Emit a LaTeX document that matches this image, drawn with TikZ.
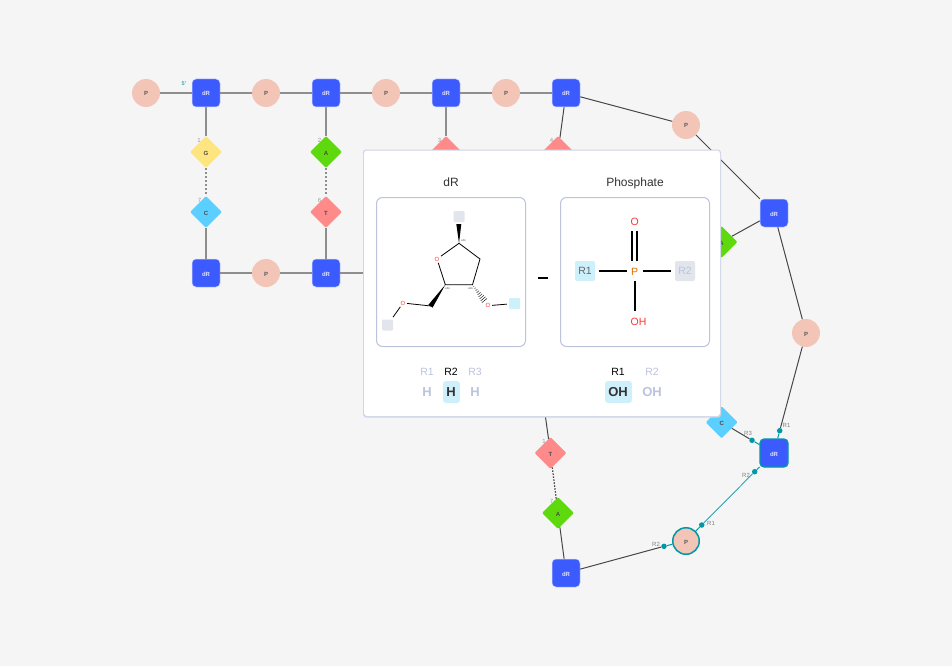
\documentclass[tikz,border=0pt]{standalone}
\usepackage{fontspec}
\setmainfont{Liberation Sans}
\usetikzlibrary{shapes.geometric}

\definecolor{bgc}{HTML}{F5F5F5}
\definecolor{dRc}{HTML}{3B5BFF}
\definecolor{Pc}{HTML}{F3C5B6}
\definecolor{Gc}{HTML}{FFE57F}
\definecolor{Ac}{HTML}{5DD90D}
\definecolor{Cc}{HTML}{5BCFFF}
\definecolor{Tc}{HTML}{FF8A8A}
\definecolor{teal1}{HTML}{0097A7}
\definecolor{lnk}{HTML}{8E8E8E}
\definecolor{frame1}{HTML}{BCC3DC}
\definecolor{sel1}{HTML}{CDF0FB}
\definecolor{off1}{HTML}{E2E5EC}
\definecolor{red1}{HTML}{FF3333}

\tikzset{
  dRnode/.style={rectangle,rounded corners=4pt,fill=dRc,draw=dRc!25!white,line width=.5pt,minimum size=28pt,inner sep=0pt,text=white!88!blue,text height=6pt,text depth=0pt,font=\fontsize{6}{6}\selectfont\bfseries},
  Pnode/.style={circle,fill=Pc,minimum size=28pt,inner sep=0pt,text=black!65,text height=6pt,text depth=0pt,font=\fontsize{6}{6}\selectfont\bfseries},
  base/.style={diamond,rounded corners=1pt,fill=#1,minimum size=32pt,inner sep=0pt,text=black!70,text height=6pt,text depth=0pt,font=\fontsize{6}{6}\selectfont\bfseries},
  num/.style={text=black!40,inner sep=0pt,font=\fontsize{6}{7}\selectfont},
  rlab/.style={text=black!50,inner sep=0pt,font=\fontsize{6}{7}\selectfont},
  gline/.style={draw=lnk,line width=2pt},
  dline/.style={draw=black!72,line width=1pt},
  tline/.style={draw=teal1,line width=1pt},
  dotr/.style={circle,fill=teal1,minimum size=5.5pt,inner sep=0pt},
  box1/.style={draw=frame1,line width=1pt,rounded corners=6pt,fill=white},
  blab/.style={inner sep=0pt,font=\fontsize{10.5}{12}\selectfont},
  bval/.style={inner sep=0pt,font=\fontsize{13}{15}\selectfont\bfseries},
  abs1/.style={inner sep=0pt,text=black!60,font=\fontsize{3}{3}\selectfont},
  Olab/.style={inner sep=1.5pt,text=red1,font=\fontsize{6}{7}\selectfont},
  bond/.style={draw=black,line width=.8pt},
  bond2/.style={draw=black,line width=1.8pt},
}

\begin{document}
\begin{tikzpicture}[x=1pt,y=-1pt]
      \fill[bgc] (0,0) rectangle (952,666);
      \useasboundingbox (0,0) rectangle (952,666);

      % top strand
      \foreach \n/\x in {1/206,2/326,3/446,4/566}
      { \node[dRnode] (dR\n) at (\x,93) {dR}; }
      \foreach \n/\x in {1/146,2/266,3/386,4/506}
      { \node[Pnode] (P\n) at (\x,93) {P}; }
      \node[Pnode] (P5) at (686,125) {P};
      \node[dRnode] (dR5) at (774,213) {dR};
      \node[Pnode] (P6) at (806,333) {P};
      \node[dRnode,draw=teal1,line width=1.2pt] (dR6) at (774,453) {dR};
      \node[Pnode,draw=teal1,line width=1.5pt,minimum size=26.5pt] (P7) at (686,541) {P};
      \node[dRnode] (dR7) at (566,573) {dR};

      % lower strand
      \node[dRnode] (dR8) at (206,273) {dR};
      \node[Pnode] (P8) at (266,273) {P};
      \node[dRnode] (dR9) at (326,273) {dR};

      % bases
      \node[base=Gc] (G1) at (206,152) {G};
      \node[base=Ac] (A1) at (326,152) {A};
      \node[base=Tc] (T1) at (446,152) {T};
      \node[base=Tc] (T2) at (558,152) {T};
      \node[base=Cc] (C1) at (206,212) {C};
      \node[base=Tc] (T3) at (326,212) {T};
      \node[base=Ac] (A2) at (721.5,242) {A};
      \node[base=Cc] (C2) at (721.7,422.3) {C};
      \node[base=Tc] (T4) at (550.5,453) {T};
      \node[base=Ac] (A3) at (558,513) {A};

      \node[num] (n1) at (199,140) {1};
      \node[num] (n2) at (319.5,140) {2};
      \node[num] (n3) at (439.5,140) {3};
      \node[num] (n4) at (551.5,140) {4};
      \node[num] (n5) at (199.5,200) {7};
      \node[num] (n6) at (319.5,200) {6};
      \node[num] (n7) at (544,441) {1};
      \node[num] (n8) at (551.5,501) {7};
      \node[text=teal1!80,inner sep=0pt,font=\fontsize{5.5}{6}\selectfont\bfseries] (end5) at (184,84) {5'};

      % links
      \draw[gline] (P1) -- (dR1);
      \draw[gline] (dR1) -- (P2);
      \draw[gline] (P2) -- (dR2);
      \draw[gline] (dR2) -- (P3);
      \draw[gline] (P3) -- (dR3);
      \draw[gline] (dR3) -- (P4);
      \draw[gline] (P4) -- (dR4);
      \draw[gline] (dR1) -- (G1);
      \draw[gline] (dR2) -- (A1);
      \draw[gline] (dR3) -- (T1);
      \draw[gline] (C1) -- (dR8);
      \draw[gline] (T3) -- (dR9);
      \draw[gline] (dR8) -- (P8);
      \draw[gline] (P8) -- (dR9);
      \path (420,273) coordinate (hid1);
      \draw[gline] (dR9) -- (hid1);
      \draw[gline,dash pattern=on 2pt off 2pt] (G1) -- (C1);
      \draw[gline,dash pattern=on 2pt off 2pt] (A1) -- (T3);
      \draw[dline] (dR4) -- (T2);
      \draw[dline] (dR4) -- (P5);
      \draw[dline] (P5) -- (dR5);
      \draw[dline] (dR5) -- (A2);
      \draw[dline] (dR5) -- (P6);
      \path (542,392) coordinate (hid2);
      \draw[dline] (hid2) -- (T4);
      \draw[dline,line width=1.2pt,dash pattern=on 1.5pt off 1.5pt] (T4) -- (A3);
      \draw[dline] (A3) -- (dR7);

      % selected links
      \node[dotr] (r1) at (779.7,430.7) {};
      \node[dotr] (r2) at (752,440.3) {};
      \node[dotr] (r3) at (754.7,471.7) {};
      \node[dotr] (r4) at (701.7,525) {};
      \node[dotr] (r5) at (664,546.3) {};
      \draw[dline] (P6) -- (r1);
      \draw[tline] (r1) -- (dR6);
      \draw[dline] (C2) -- (r2);
      \draw[tline] (r2) -- (dR6);
      \draw[tline] (dR6) -- (r3);
      \draw[tline,line width=.7pt] (r3) -- (r4);
      \draw[tline] (r4) -- (P7);
      \draw[tline] (P7) -- (r5);
      \draw[dline] (r5) -- (dR7);
      \node[rlab] (l1) at (786.5,425) {R1};
      \node[rlab] (l2) at (748,433) {R3};
      \node[rlab] (l3) at (746,475) {R2};
      \node[rlab] (l4) at (711,523) {R1};
      \node[rlab] (l5) at (656,544) {R2};

      % panel
      \fill[frame1!70,rounded corners=3pt] (363,149.5) rectangle (721,417.5);
      \fill[white,rounded corners=3pt] (364,150.5) rectangle (720,416);

      \node[inner sep=0pt,text=black!80,font=\fontsize{12}{14}\selectfont] (tdR) at (451,182) {dR};
      \node[inner sep=0pt,text=black!80,font=\fontsize{12}{14}\selectfont] (tPh) at (635,183.5) {Phosphate};
      \draw[box1] (376.5,197.5) rectangle (525.5,346.5);
      \draw[box1] (560.5,197.5) rectangle (709.5,346.5);
      \draw[black,line width=2pt] (538,277.5) to (548,277.5);

      % sugar
      \path (459,243.3) coordinate (a1);
      \path (480,259) coordinate (a2);
      \path (472.5,284.7) coordinate (a3);
      \path (445.3,284.7) coordinate (a4);
      \path (431,306) coordinate (a5);
      \node[rectangle,rounded corners=1pt,fill=off1,minimum size=11pt,inner sep=0pt] (s1) at (459,216.5) {};
      \node[rectangle,rounded corners=1pt,fill=off1,minimum size=11pt,inner sep=0pt] (s2) at (387.5,325) {};
      \node[rectangle,rounded corners=1pt,fill=sel1,minimum size=11pt,inner sep=0pt] (s3) at (514.5,303.5) {};
      \node[Olab] (O1) at (437,259) {O};
      \node[Olab] (O2) at (403,303) {O};
      \node[Olab] (O3) at (488,305.7) {O};
      \draw[bond] (O1) -- (a1) -- (a2) -- (a3) -- (a4) -- (O1);
      \fill (a1) -- (456.3,224) -- (461.3,224) -- cycle;
      \fill (a4) -- (428.4,304.8) -- (432.6,307.6) -- cycle;
      \foreach \i in {1,...,9}
      { \path (a3) -- (485,301.5) coordinate[pos=\i/9.5] (hh);
        \draw[black,line width=.4pt] ([shift={(-.3*\i,.25*\i)}]hh) -- ([shift={(.3*\i,-.25*\i)}]hh); }
      \draw[bond] (a5) -- (O2);
      \draw[bond,shorten >=2.5pt] (O2) -- (s2);
      \draw[bond,shorten >=2pt] (O3) -- (s3);
      \node[abs1] (ab1) at (463.5,240.5) {abs};
      \node[abs1] (ab2) at (447.5,288.5) {abs};
      \node[abs1] (ab3) at (470.5,288.5) {abs};

      % phosphate
      \node[inner sep=0pt,text=red1,font=\fontsize{10.5}{12}\selectfont] (O4) at (634.7,221.5) {O};
      \node[inner sep=0pt,text=orange!85!black,font=\fontsize{10.5}{12}\selectfont] (P9) at (634.7,271.5) {P};
      \node[inner sep=0pt,text=red1,font=\fontsize{10.5}{12}\selectfont] (OH1) at (638.5,321.5) {OH};
      \node[rectangle,rounded corners=2pt,fill=sel1,minimum size=20pt,inner sep=0pt,text=black!60,font=\fontsize{10.5}{12}\selectfont] (R1) at (585,271) {R1};
      \node[rectangle,rounded corners=2pt,fill=off1,minimum size=20pt,inner sep=0pt,text=frame1,font=\fontsize{10.5}{12}\selectfont] (R2) at (685,271) {R2};
      \draw[bond2] (632.25,231) -- (632.25,261);
      \draw[bond2] (637.25,231) -- (637.25,261);
      \draw[bond2] (599,271) -- (627,271);
      \draw[bond2] (643,271) -- (671,271);
      \draw[bond2] (634.75,281) -- (634.75,311);

      % selectors
      \fill[sel1,rounded corners=3pt] (443,381) rectangle (460,403);
      \fill[sel1,rounded corners=3pt] (605,381) rectangle (632,403);
      \foreach \t/\x/\c in {R1/427/frame1,R2/451/black,R3/475/frame1,R1/618/black,R2/652/frame1}
      { \node[blab,text=\c] at (\x,372) {\t}; }
      \foreach \t/\x/\c in {H/427/frame1,H/451/black!80,H/475/frame1,OH/618/black!80,OH/652/frame1}
      { \node[bval,text=\c] at (\x,392) {\t}; }
\end{tikzpicture}
\end{document}
